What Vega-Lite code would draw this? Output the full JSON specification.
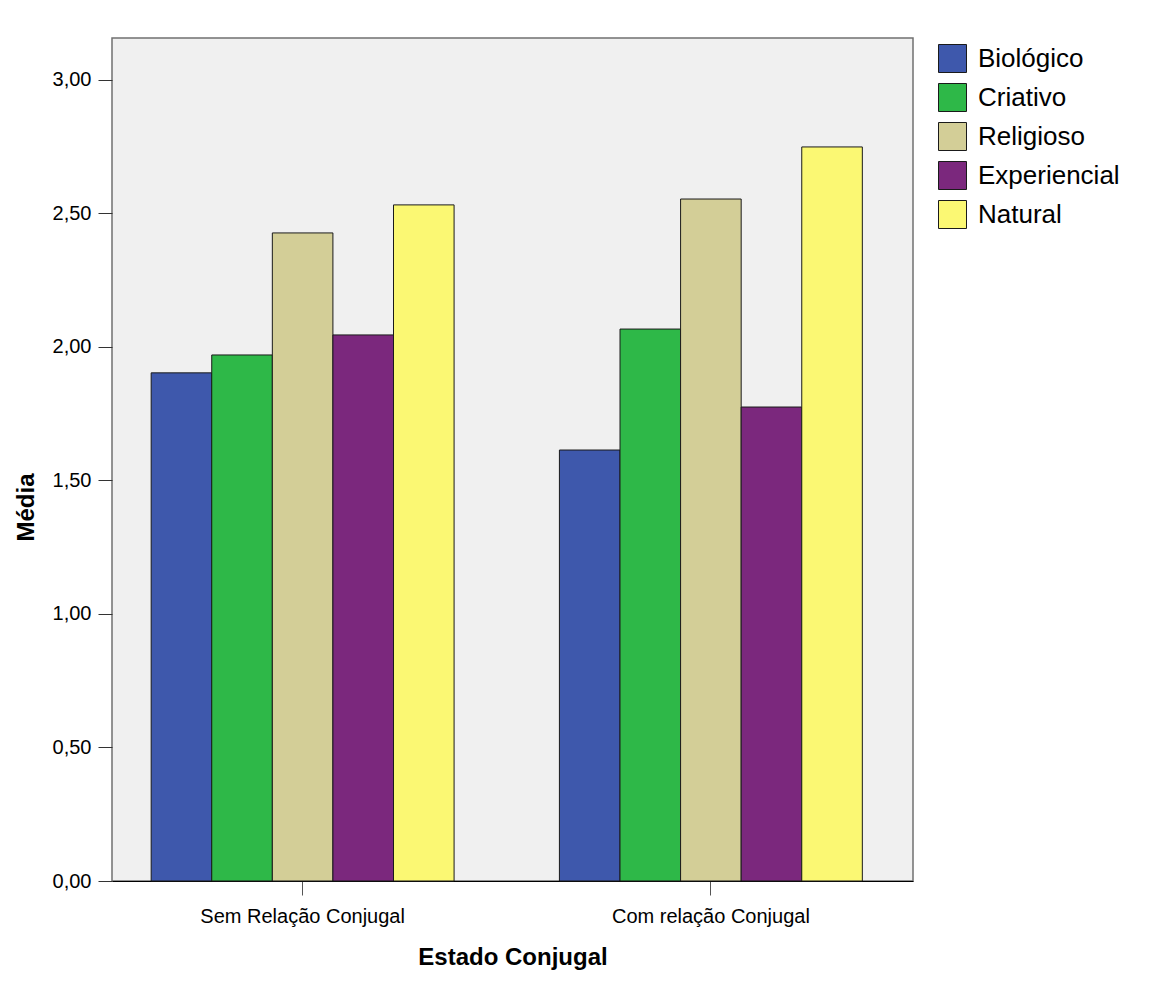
{
  "$schema": "https://vega.github.io/schema/vega-lite/v6.json",
  "autosize": {"type": "none"},
  "width": 801,
  "height": 843,
  "padding": {"left": 112, "top": 38, "right": 244, "bottom": 120},
  "background": "white",
  "config": {
    "font": "Liberation Sans",
    "locale": {"number": {"decimal": ",", "thousands": ".", "grouping": [3], "currency": ["", ""]}},
    "view": {"fill": "#f0f0f0", "stroke": "#707070", "strokeWidth": 1.5}
  },
  "data": {
    "values": [
      {"estado": "Sem Relação Conjugal", "tipo": "Biológico", "media": 1.903},
      {"estado": "Sem Relação Conjugal", "tipo": "Criativo", "media": 1.970},
      {"estado": "Sem Relação Conjugal", "tipo": "Religioso", "media": 2.427},
      {"estado": "Sem Relação Conjugal", "tipo": "Experiencial", "media": 2.045},
      {"estado": "Sem Relação Conjugal", "tipo": "Natural", "media": 2.532},
      {"estado": "Com relação Conjugal", "tipo": "Biológico", "media": 1.614},
      {"estado": "Com relação Conjugal", "tipo": "Criativo", "media": 2.067},
      {"estado": "Com relação Conjugal", "tipo": "Religioso", "media": 2.554},
      {"estado": "Com relação Conjugal", "tipo": "Experiencial", "media": 1.775},
      {"estado": "Com relação Conjugal", "tipo": "Natural", "media": 2.749}
    ]
  },
  "mark": {"type": "bar", "stroke": "#1a1a1a", "strokeWidth": 1},
  "encoding": {
    "x": {
      "field": "estado",
      "type": "nominal",
      "sort": ["Sem Relação Conjugal", "Com relação Conjugal"],
      "scale": {"paddingInner": 0.258, "paddingOuter": 0.11, "align": 0.436},
      "axis": {
        "title": "Estado Conjugal",
        "titleFontSize": 24,
        "titleFontWeight": "bold",
        "titleColor": "#000",
        "titlePadding": 19,
        "labelFontSize": 20,
        "labelColor": "#000",
        "labelAngle": 0,
        "labelPadding": 11,
        "labelLimit": 400,
        "tickSize": 14,
        "tickColor": "#555",
        "domainColor": "#000",
        "domainWidth": 1
      }
    },
    "xOffset": {
      "field": "tipo",
      "type": "nominal",
      "sort": ["Biológico", "Criativo", "Religioso", "Experiencial", "Natural"],
      "scale": {"paddingInner": 0, "paddingOuter": 0}
    },
    "y": {
      "field": "media",
      "type": "quantitative",
      "scale": {"domain": [0, 3.157], "nice": false, "zero": true},
      "axis": {
        "title": "Média",
        "titleFontSize": 24,
        "titleFontWeight": "bold",
        "titleColor": "#000",
        "titleAngle": 270,
        "titleX": -79,
        "titleY": 469,
        "titleAlign": "center",
        "titleBaseline": "alphabetic",
        "values": [0, 0.5, 1, 1.5, 2, 2.5, 3],
        "format": ".2f",
        "labelFontSize": 20,
        "labelColor": "#000",
        "labelPadding": 7,
        "tickSize": 14,
        "tickColor": "#333",
        "grid": false,
        "domain": false
      }
    },
    "fill": {
      "field": "tipo",
      "type": "nominal",
      "sort": ["Biológico", "Criativo", "Religioso", "Experiencial", "Natural"],
      "scale": {
        "domain": ["Biológico", "Criativo", "Religioso", "Experiencial", "Natural"],
        "range": ["#3e58ac", "#2eb848", "#d3ce97", "#7b287d", "#fbf873"]
      },
      "legend": {
        "title": null,
        "orient": "none",
        "legendX": 826,
        "legendY": 6,
        "symbolType": "square",
        "symbolSize": 784,
        "symbolStrokeColor": "#1a1a1a",
        "symbolStrokeWidth": 1,
        "labelFontSize": 26,
        "labelColor": "#000",
        "labelOffset": 11,
        "rowPadding": 6,
        "labelLimit": 300
      }
    }
  }
}
